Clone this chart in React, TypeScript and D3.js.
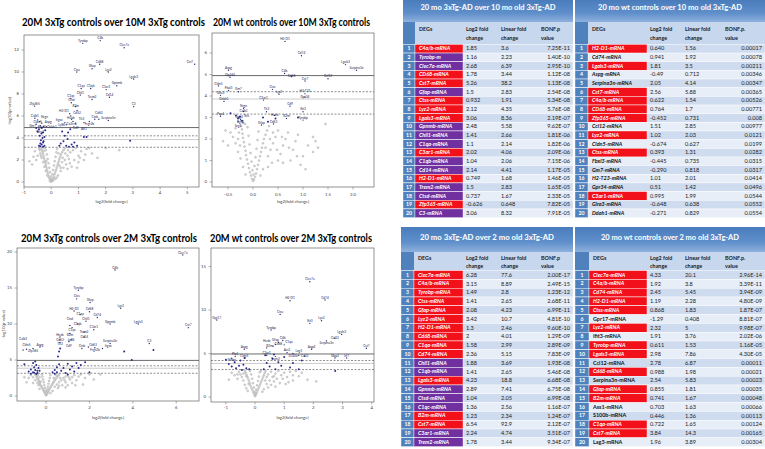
import React from "react";
import * as d3 from "d3";

type Pt = [number, number];
type Lab = [string, number, number];

// ---------------- Volcano plot data ----------------
const v1Grey: Pt[] = [[0,0.05],[0.02,0.1],[-0.02,0.12],[0.05,0.2],[-0.05,0.25],[0.08,0.35],[-0.08,0.4],[0.1,0.5],[-0.1,0.55],[0.12,0.7],[-0.12,0.75],[0.15,0.9],[-0.14,0.95],[0.18,1.1],[-0.16,1.15],[0.2,1.3],[-0.18,1.35],[0.23,1.5],[-0.2,1.55],[0.25,1.7],[-0.22,1.75],[0.28,1.9],[-0.24,1.95],[0.3,2.1],[-0.26,2.15],[0.33,2.3],[-0.28,2.35],[0.36,2.5],[-0.3,2.55],[0.4,2.7],[-0.32,2.75],[0.45,2.9],[-0.34,2.95],[-0.36,3.1],[0.5,3.05],[0.3,1.5],[0.4,1.8],[0.5,2.0],[0.6,2.4],[0.7,2.7],[0.8,2.9],[0.9,3.1],[0.55,1.6],[0.65,2.1],[0.45,1.3],[0.35,1.0],[0.25,0.6],[0.2,0.4],[-0.3,1.8],[-0.35,2.2],[-0.4,2.6],[-0.42,2.9],[-0.25,1.4],[-0.2,1.0],[-0.15,0.6],[-0.45,3.0],[-0.5,2.4],[-0.55,2.0],[-0.7,1.6],[-0.6,2.8],[1.0,2.4],[1.1,2.8],[1.2,2.0],[1.3,3.0],[1.5,2.6],[1.0,1.8],[0.85,2.0],[0.75,1.4],[1.4,3.1],[2.0,3.1],[2.5,2.9],[1.7,2.2],[0.6,1.2],[0.15,0.3],[-0.05,0.08],[0.08,0.15],[0.01,0.3],[-0.01,0.5],[0.04,0.7],[-0.04,0.9],[0.07,1.1],[-0.07,1.3],[0.1,1.5],[-0.1,1.7],[0.13,1.9],[-0.13,2.1],[0.16,2.3],[-0.16,2.5],[0.19,2.7],[-0.2,2.9],[0.22,3.0],[-0.24,3.1],[0.35,1.3],[0.42,2.2],[0.52,2.6],[0.62,2.9],[-0.38,2.4],[-0.28,2.8],[-0.18,1.9],[0.27,2.6],[0.68,1.7],[1.05,2.2],[1.25,2.5],[-0.8,1.9],[-0.65,2.3],[0.95,1.3]];
const v1Blue: Pt[] = [[-0.45,3.3],[-0.4,3.5],[-0.35,3.4],[-0.3,3.6],[-0.25,3.3],[-0.38,3.8],[-0.32,4.0],[-0.28,3.7],[-0.42,4.2],[-0.36,4.4],[-0.3,4.5],[-0.25,4.1],[-0.5,4.6],[-0.45,4.8],[-0.35,4.9],[-0.22,4.7],[-0.3,3.2],[-0.4,3.25],[-0.55,4.9],[0.3,3.3],[0.35,3.5],[0.45,3.7],[0.55,3.3],[0.6,3.9],[0.5,4.2],[0.62,4.5],[0.7,4.8],[0.75,3.4],[0.8,3.2],[0.95,3.3],[0.4,4.6],[1.2,4.1],[1.3,4.1],[2.9,3.75],[0.85,3.6],[0.65,3.2]];
const v1Labels: Lab[] = [["C4b",1.8,12.85],["Tyrobp",1.16,12.6],["Clec7a",2.68,12.2],["Cst7",5.27,10.7],["Cd68",1.78,10.7],["Gfap",1.5,10.3],["Ctss",0.94,10.0],["Lyz2",2.1,10.0],["Lgals3",3.03,9.36],["Gpnmb",2.41,8.75],["C1qa",1.1,8.5],["C1qb",1.45,8.5],["C3ar1",2.02,8.4],["Chil1",1.07,7.9],["Cd14",2.14,7.7],["Trem2",1.5,7.5],["C1qc",0.72,7.6],["Ctsd",0.74,7.2],["Zfp365",-0.61,6.9],["B2m",0.9,6.85],["Cd52",0.95,6.5],["C3",3.03,6.85],["H2-D1",0.68,6.2],["Hexb",0.72,6.0],["Cx3cr1",0.75,5.7],["Tlr2",0.8,5.5],["Itgax",0.5,5.4],["Ly86",0.55,5.2],["Cd9",0.9,5.3],["Fcgr2b",1.4,5.5],["Ctsb",1.6,5.7],["Cd63",1.75,5.7],["Serpina3n",2.1,5.6],["Aif1",1.2,5.4],["Calb1",-0.6,5.8],["Cldn5",-0.5,5.65],["Nrgn",-0.42,5.5],["Fbxl3",-0.35,5.35],["Gm7",-0.55,5.25],["Glra3",-0.4,5.12],["Aspg",-0.28,5.05],["Ddah1",-0.18,5.02]];

const v2Grey: Pt[] = [[0,0.05],[0.02,0.12],[-0.02,0.15],[0.04,0.25],[-0.04,0.3],[0.06,0.4],[-0.06,0.45],[0.08,0.6],[-0.08,0.65],[0.1,0.8],[-0.1,0.85],[0.12,1.0],[-0.12,1.05],[0.14,1.2],[-0.14,1.25],[0.16,1.4],[-0.15,1.45],[0.18,1.6],[-0.17,1.65],[0.2,1.8],[-0.18,1.85],[0.22,2.0],[-0.2,2.05],[0.25,2.2],[-0.21,2.25],[0.28,2.4],[-0.22,2.45],[-0.24,2.6],[0.3,1.2],[0.35,1.5],[0.4,1.8],[0.45,2.1],[0.5,2.4],[0.38,0.9],[0.55,1.3],[0.6,1.7],[0.65,2.0],[0.7,2.3],[0.75,1.0],[0.8,1.5],[0.85,1.9],[0.9,2.2],[1.0,1.2],[1.05,0.6],[1.1,1.7],[1.2,2.1],[1.25,1.9],[1.2,1.4],[0.95,0.8],[0.6,0.9],[-0.3,1.4],[-0.35,1.8],[-0.4,2.1],[-0.45,2.3],[-0.3,2.0],[-0.25,1.1],[-0.5,1.7],[-0.55,2.4],[-0.6,1.9],[-0.2,0.7],[1.45,2.7],[0.2,0.6],[0.3,0.7],[0.15,0.3],[-0.15,0.35],[0.01,0.35],[-0.01,0.55],[0.03,0.75],[-0.03,0.95],[0.05,1.15],[-0.05,1.35],[0.07,1.55],[-0.07,1.75],[0.09,1.95],[-0.09,2.15],[0.11,2.35],[-0.11,2.55],[-0.16,2.7],[0.32,2.6],[0.4,2.3],[0.25,1.6],[0.34,2.0],[0.48,1.5],[0.58,2.1],[-0.28,2.3],[-0.35,2.5],[-0.26,1.7],[0.72,1.6],[0.88,1.2],[1.3,1.6],[0.5,1.0]];
const v2Blue: Pt[] = [[-0.3,2.95],[-0.26,3.05],[-0.22,2.85],[-0.34,3.1],[0.2,3.0],[0.3,2.8],[0.45,2.95],[-0.45,3.2],[0.9,3.0]];
const v2Labels: Lab[] = [["H2-D1",0.64,6.54],["Cd74",0.97,5.87],["Lgals3",1.85,5.46],["Serpina3n",2.07,5.2],["Aspg",-0.49,5.2],["Ccl12",1.5,4.8],["C4b",0.63,5.05],["Cd68",0.77,4.9],["Zfp365",-0.46,4.87],["Cst7",1.04,4.7],["Cldn5",-0.69,4.47],["Fbxl3",-0.49,4.26],["Gm7",-0.29,4.2],["Ctss",0.39,4.31],["Lyz2",0.52,4.08],["Glra3",-0.65,4.03],["H2-T23",1.04,4.1],["Gpr34",1.04,3.95],["Ddah1",-0.58,3.75],["C3ar1",0.21,3.81],["Cd9",0.74,3.53],["Nrgn",-0.19,3.43],["Calb1",-0.19,3.28],["Tlr2",0.27,3.27],["Ifit3",1.0,3.27],["Hexb",0.43,3.1],["Pcp4",-0.65,3.06],["Gng4",-0.28,3.0],["Rgs4",-0.25,2.9],["Scg2",-0.3,2.8],["Nts",-0.2,2.75],["B2m",0.67,2.96],["Tyrobp",1.0,2.88],["Gfap",0.17,2.65],["Cd63",0.41,2.7]];

const v3Grey: Pt[] = [[0,0.1],[0.03,0.2],[-0.03,0.25],[0.06,0.4],[-0.06,0.45],[0.1,0.6],[-0.1,0.65],[0.13,0.8],[-0.13,0.85],[0.16,1.0],[-0.16,1.05],[0.2,1.2],[-0.2,1.25],[0.24,1.4],[-0.24,1.45],[0.28,1.6],[-0.28,1.65],[0.32,1.8],[-0.3,1.85],[0.36,2.0],[-0.33,2.05],[0.4,2.2],[-0.36,2.25],[0.45,2.4],[-0.4,2.45],[0.5,2.6],[-0.43,2.65],[0.55,2.8],[-0.46,2.85],[-0.5,3.0],[0.6,3.0],[0.4,1.3],[0.5,1.6],[0.6,1.9],[0.7,2.2],[0.8,2.5],[0.9,2.7],[1.0,2.9],[0.55,1.1],[0.75,1.5],[0.9,1.9],[1.1,2.3],[1.2,2.6],[1.3,2.9],[1.0,1.5],[1.4,2.2],[1.5,2.7],[1.6,3.0],[1.8,2.5],[2.0,3.0],[1.2,1.8],[0.3,0.7],[0.2,0.4],[-0.4,1.8],[-0.5,2.2],[-0.6,2.6],[-0.7,2.9],[-0.35,1.5],[-0.3,1.0],[-0.6,1.8],[-0.9,1.9],[-0.8,2.5],[2.2,2.3],[2.5,3.0],[1.7,1.6],[0.02,0.5],[-0.02,0.7],[0.05,0.9],[-0.05,1.1],[0.08,1.3],[-0.08,1.5],[0.11,1.7],[-0.11,1.9],[0.14,2.1],[-0.14,2.3],[0.17,2.5],[-0.17,2.7],[0.2,2.9],[-0.2,3.0],[0.35,2.5],[0.45,2.9],[0.65,2.5],[0.85,2.2],[1.05,2.6],[-0.3,2.6],[-0.38,2.9],[-0.25,2.0],[0.6,1.4],[0.9,1.2],[1.35,1.5],[-1.0,2.6]];
const v3Blue: Pt[] = [[-0.8,3.4],[-0.7,3.7],[-0.6,3.3],[-0.55,4.0],[-0.5,3.6],[-0.45,4.3],[-0.4,3.5],[-0.35,3.9],[-0.6,4.6],[-0.5,4.8],[-0.4,3.2],[-0.3,3.5],[-0.7,3.1],[-0.55,3.25],[-1.0,4.4],[-0.45,3.05],[0.3,3.3],[0.4,3.6],[0.5,4.0],[0.6,4.4],[0.7,3.5],[0.8,3.9],[0.9,3.2],[1.0,4.5],[1.1,3.7],[1.2,4.1],[1.3,3.4],[1.4,4.6],[1.5,3.9],[1.6,4.3],[1.8,4.7],[2.0,3.3],[0.55,5.5],[0.6,6.2],[0.65,6.6],[0.4,3.1],[0.5,3.3],[1.0,3.0],[3.6,6.2],[3.95,5.0],[4.95,6.4]];
const v3Labels: Lab[] = [["Clec7a",6.3,19.6],["C4b",3.18,17.5],["Tyrobp",1.49,14.7],["Ctss",1.41,13.5],["Gfap",2.03,13.0],["Lyz2",3.44,12.2],["H2-D1",1.29,11.8],["Cd68",2.0,11.7],["C1qa",1.57,11.3],["Cd74",2.36,10.9],["Chil1",1.84,10.4],["Gpnmb",2.95,10.0],["Lgals3",4.25,10.0],["Cst7",6.56,9.5],["C1qb",1.45,10.0],["Ctsd",1.1,9.8],["C1qc",1.2,9.5],["B2m",1.1,8.7],["C3ar1",2.2,9.2],["Trem2",1.75,8.9],["Cd14",1.76,8.2],["Hexb",0.64,8.2],["Cd52",0.64,7.8],["Tlr2",0.64,7.45],["Ly86",1.15,7.8],["Cd9",1.05,7.55],["Serpina3n",2.95,7.3],["C3",4.76,7.3],["Aspg",-0.28,6.8],["Zfp365",-0.6,6.6],["Cldn5",-0.9,6.5],["Calb1",-1.06,6.4],["Ctsb",1.65,6.6],["Cd63",1.95,6.8],["Fcgr2b",2.25,6.7],["Itgax",2.6,6.6]];

const v4Grey: Pt[] = [[0,0.1],[0.03,0.25],[-0.03,0.3],[0.06,0.5],[-0.06,0.55],[0.09,0.75],[-0.09,0.8],[0.12,1.0],[-0.12,1.05],[0.15,1.25],[-0.15,1.3],[0.18,1.5],[-0.18,1.55],[0.21,1.75],[-0.2,1.8],[0.24,2.0],[-0.23,2.05],[0.27,2.25],[-0.26,2.3],[0.3,2.5],[-0.29,2.55],[0.33,2.75],[-0.32,2.8],[-0.35,3.0],[0.36,3.0],[0.4,1.5],[0.5,1.9],[0.6,2.3],[0.7,2.7],[0.8,3.0],[0.45,1.1],[0.55,1.4],[0.65,1.8],[0.75,2.1],[0.9,2.5],[1.0,2.8],[1.1,2.3],[1.2,2.9],[1.3,1.9],[0.85,1.6],[1.05,1.5],[1.5,2.4],[1.6,2.8],[1.4,3.0],[2.1,1.8],[1.8,2.0],[0.3,0.9],[0.25,0.6],[-0.4,1.9],[-0.45,2.3],[-0.5,2.6],[-0.55,2.9],[-0.35,1.4],[-0.3,1.0],[-0.6,2.1],[-0.7,2.5],[-0.8,2.8],[-0.25,0.7],[-0.9,2.0],[1.3,2.5],[0.01,0.4],[-0.01,0.6],[0.04,0.85],[-0.04,1.1],[0.07,1.35],[-0.07,1.6],[0.1,1.85],[-0.1,2.1],[0.13,2.35],[-0.13,2.6],[0.16,2.85],[-0.18,3.0],[0.2,3.0],[0.45,2.6],[0.55,2.9],[0.35,1.9],[0.4,2.3],[0.65,2.4],[-0.3,2.4],[-0.4,2.7],[-0.22,1.5],[0.95,2.1],[1.15,1.7],[0.7,1.2],[-0.6,2.6]];
const v4Blue: Pt[] = [[-0.9,3.8],[-0.8,3.5],[-0.7,4.0],[-0.65,3.3],[-0.55,3.6],[-0.5,4.2],[-0.45,3.1],[-0.4,3.7],[-0.35,4.5],[-0.3,3.3],[-1.0,4.3],[-0.2,3.2],[0.3,3.2],[0.4,3.9],[0.5,3.5],[0.6,4.4],[0.7,3.2],[0.8,4.0],[0.9,3.6],[1.0,4.6],[1.2,3.4],[1.3,3.9],[1.5,3.2],[1.6,4.2],[2.75,3.0],[0.35,4.8],[0.65,4.9]];
const v4Labels: Lab[] = [["Clec7a",1.88,13.25],["H2-D1",1.2,11.07],["Cd74",2.4,11.15],["Gpr17",-1.31,8.85],["Ctss",0.86,9.5],["Ifit3",1.88,8.47],["Lyz2",2.28,8.77],["Tyrobp",0.55,7.7],["Lgals3",2.97,7.2],["Ccl12",2.74,6.75],["Serpina3n",2.45,6.45],["C4b",0.95,6.5],["Cd68",0.8,6.3],["Gfap",0.7,6.05],["B2m",0.62,5.85],["C1qa",1.0,6.0],["Hexb",0.4,5.65],["Aspg",-0.37,5.5],["Aqp4",1.94,5.5],["Cst7",3.82,5.6],["Ass1",1.1,5.1],["S100b",1.3,5.0],["Lag3",1.5,4.8],["Cd52",1.7,4.7],["Plp1",-0.68,4.65],["Mobp",-0.8,4.45],["Cldn5",-0.37,4.5],["Gbp2",2.74,4.5],["Irf7",3.14,4.5],["C3ar1",0.4,4.8],["Trem2",0.7,4.65]];

const thresholds = [4.95, 4.2, 3.86, 3.16];

// ---------------- Table data ----------------
const t1Genes = ["C4a/b-mRNA","Tyrobp-m","Clec7a-mRNA","CD68-mRNA","Cst7-mRNA","Gfap-mRNA","Ctss-mRNA","Lyz2-mRNA","Lgals3-mRNA","Gpnmb-mRNA","Chil1-mRNA","C1qa-mRNA","C3ar1-mRNA","C1qb-mRNA","Cd14-mRNA","H2-D1-mRNA","Trem2-mRNA","Ctsd-mRNA","Zfp365-mRNA","C3-mRNA"];
const t1Hl = "rpprrprrrppprpprpprp";
const t1Log2 = ["1.85","1.16","2.68","1.78","5.26","1.5","0.932","2.12","3.06","2.48","1.41","1.1","2.02","1.04","2.14","0.749","1.5","0.737","-0.626","3.06"];
const t1Lin = ["3.6","2.23","6.39","3.44","38.2","2.83","1.91","4.35","8.36","5.58","2.66","2.14","4.06","2.06","4.41","1.68","2.83","1.67","0.648","8.32"];
const t1Bonf = ["7.25E-11","1.40E-10","2.95E-10","1.12E-08","1.13E-08","2.54E-08","5.34E-08","5.76E-08","2.19E-07","9.62E-07","1.81E-06","1.82E-06","2.09E-06","7.15E-06","1.17E-05","1.46E-05","1.65E-05","2.33E-05","7.82E-05","7.91E-05"];

const t2Genes = ["H2-D1-mRNA","Cd74-mRNA","Lgals3-mRNA","Aspg-mRNA","Serpina3n-mRNA","Cst7-mRNA","C4a/b-mRNA","CD68-mRNA","Zfp365-mRNA","Ccl12-mRNA","Lyz2-mRNA","Cldn5-mRNA","Ctss-mRNA","Fbxl3-mRNA","Gm7-mRNA","H2-T23-mRNA","Gpr34-mRNA","C3ar1-mRNA","Glra3-mRNA","Ddah1-mRNA"];
const t2Hl = "rnrnnrrrrnrnrnnnnrnn";
const t2Log2 = ["0.640","0.941","1.81","-0.49","2.05","2.56","0.622","0.764","-0.452","1.51","1.02","-0.674","0.393","-0.445","-0.290","1.01","0.51","0.995","-0.648","-0.271"];
const t2Lin = ["1.56","1.92","3.5","0.712","4.14","5.88","1.54","1.7","0.731","2.85","2.03","0.627","1.31","0.735","0.818","2.01","1.42","1.99","0.638","0.829"];
const t2Bonf = ["0.00017","0.00078","0.00211","0.00346","0.00347","0.00365","0.00526","0.00771","0.008","0.00977","0.0121","0.0199","0.0282","0.0315","0.0317","0.0414","0.0496","0.0544","0.0552","0.0554"];

const t3Genes = ["Clec7a-mRNA","C4a/b-mRNA","Tyrobp-mRNA","Ctss-mRNA","Gfap-mRNA","Lyz2-mRNA","H2-D1-mRNA","Cd68-mRNA","C1qa-mRNA","Cd74-mRNA","Chil1-mRNA","C1qb-mRNA","Lgals3-mRNA","Gpnmb-mRNA","Ctsd-mRNA","C1qc-mRNA","B2m-mRNA","Cst7-mRNA","C3ar1-mRNA","Trem2-mRNA"];
const t3Hl = "rrrrrrrrrrpprppprrpp";
const t3Log2 = ["6.28","3.15","1.49","1.41","2.08","3.42","1.3","2","1.58","2.36","1.88","1.41","4.23","2.89","1.04","1.36","1.23","6.54","2.24","1.78"];
const t3Lin = ["77.6","8.89","2.8","2.65","4.23","10.7","2.46","4.01","2.99","5.15","3.69","2.65","18.8","7.41","2.05","2.56","2.34","92.9","4.74","3.44"];
const t3Bonf = ["2.00E-17","2.49E-15","1.23E-12","2.68E-11","6.99E-11","4.81E-10","9.60E-10","1.29E-09","2.89E-09","7.83E-09","1.93E-08","5.46E-08","6.68E-08","6.75E-08","6.99E-08","1.16E-07","1.24E-07","2.12E-07","3.51E-07","9.34E-07"];

const t4Genes = ["Clec7a-mRNA","C4a/b-mRNA","Cd74-mRNA","H2-D1-mRNA","Ctss-mRNA","Gpr17-mRNA","Lyz2-mRNA","Ifit3-mRNA","Tyrobp-mRNA","Lgals3-mRNA","Ccl12-mRNA","Cd68-mRNA","Serpina3n-mRNA","Gfap-mRNA","B2m-mRNA","Ass1-mRNA","S100b-mRNA","C1qa-mRNA","Cst7-mRNA","Lag3-mRNA"];
const t4Hl = "rrrrrnrnrrnrnrrnnrrn";
const t4Log2 = ["4.33","1.92","2.45","1.19","0.868","-1.29","2.32","1.91","0.611","2.98","2.78","0.988","2.54","0.855","0.741","0.703","0.446","0.722","3.84","1.96"];
const t4Lin = ["20.1","3.8","5.45","2.28","1.83","0.408","5","3.76","1.53","7.86","6.87","1.98","5.83","1.81","1.67","1.63","1.36","1.65","14.3","3.89"];
const t4Bonf = ["2.96E-14","3.39E-11","3.94E-09","4.80E-09","1.87E-07","8.81E-07","9.98E-07","2.02E-06","1.16E-05","4.30E-05","0.00011","0.00021","0.00023","0.00035","0.00048","0.00066","0.00113","0.00124","0.00165","0.00304"];

const FONT = "Lato, 'Open Sans', 'DejaVu Sans', sans-serif";
const LABEL_FS = 3.2;

type Placed = { g: string; px: number; py: number; tx: number; ty: number };

// Greedy label placement: keeps each gene label next to its point while avoiding collisions.
function placeLabels(labels: Lab[], x: (v: number) => number, y: (v: number) => number,
  box: [number, number, number, number]): Placed[] {
  const fs = LABEL_FS;
  const h = fs * 1.25;
  const done: { cx: number; cy: number; w: number; h: number }[] = [];
  const out: Placed[] = [];
  const hit = (cx: number, cy: number, w: number) =>
    done.some((b) => Math.abs(b.cx - cx) < (b.w + w) / 2 + 0.3 && Math.abs(b.cy - cy) < (b.h + h) / 2 + 0.2);
  for (const [g, lx, ly] of labels) {
    const px = x(lx), py = y(ly);
    const w = g.length * fs * 0.56 + 0.6;
    const cands: [number, number][] = [];
    for (let k = -4; k <= 4; k++) for (const s of [0, 0.6, -0.6, 1.1, -1.1]) cands.push([px + s * w, py - 2.2 + k * h * 0.55]);
    cands.sort((a, b) => ((a[0] - px) ** 2 + (a[1] - py + 2.2) ** 2) - ((b[0] - px) ** 2 + (b[1] - py + 2.2) ** 2));
    let best = cands[0];
    for (const c of cands) {
      const inside = c[0] - w / 2 > box[0] + 0.5 && c[0] + w / 2 < box[1] - 0.5 && c[1] - h / 2 > box[2] + 0.5 && c[1] + h / 2 < box[3] - 0.5;
      if (inside && !hit(c[0], c[1], w)) { best = c; break; }
    }
    done.push({ cx: best[0], cy: best[1], w, h });
    out.push({ g, px, py, tx: best[0], ty: best[1] });
  }
  return out;
}

type VProps = {
  box: [number, number, number, number];
  xd: [number, number]; yd: [number, number];
  xt: number[]; yt: number[]; xfmt: (n: number) => string;
  grey: Pt[]; blue: Pt[]; labels: Lab[];
  title: string; titleX: number; titleY: number; titleW: number;
  tickY: number; xlabY: number; ylabX?: number;
};

function Volcano(p: VProps) {
  const [x0, x1, y0, y1] = p.box;
  const x = d3.scaleLinear().domain(p.xd).range([x0, x1]);
  const y = d3.scaleLinear().domain(p.yd).range([y1, y0]);
  const lineStyle = [
    { stroke: "#444", dash: undefined, w: 0.8 },
    { stroke: "#444", dash: "2,1.5", w: 0.6 },
    { stroke: "#aaa", dash: undefined, w: 0.6 },
    { stroke: "#444", dash: "2,1.5", w: 0.6 },
  ];
  const placed = placeLabels(p.labels, x, y, p.box);
  return (
    <g fontFamily={FONT}>
      <text x={p.titleX} y={p.titleY} fontSize={10.5} fontWeight="bold" fill="#000"
        textLength={p.titleW} lengthAdjust="spacingAndGlyphs">{p.title}</text>
      {p.grey.map((d, i) => (
        <circle key={"g" + i} cx={x(d[0])} cy={y(d[1])} r={1.0} fill="#d6d6d6" stroke="#a0a0a0" strokeWidth={0.35} />
      ))}
      {thresholds.map((t, i) => (
        <line key={"t" + i} x1={x0} x2={x1} y1={y(t)} y2={y(t)} stroke={lineStyle[i].stroke}
          strokeWidth={lineStyle[i].w} strokeDasharray={lineStyle[i].dash} />
      ))}
      {p.blue.map((d, i) => (
        <circle key={"b" + i} cx={x(d[0])} cy={y(d[1])} r={1.0} fill="#2a2a8c" />
      ))}
      {placed.map((d, i) => (
        <g key={"l" + i}>
          <circle cx={d.px} cy={d.py} r={0.7} fill="#2a2a6c" />
          <text x={d.tx} y={d.ty} fontSize={LABEL_FS} fill="#1c1c50" textAnchor="middle" dominantBaseline="middle">{d.g}</text>
        </g>
      ))}
      <rect x={x0} y={y0} width={x1 - x0} height={y1 - y0} fill="none" stroke="#666" strokeWidth={0.7} />
      {p.xt.map((t) => (
        <g key={"xt" + t}>
          <line x1={x(t)} x2={x(t)} y1={y1} y2={y1 + 2.5} stroke="#666" strokeWidth={0.5} />
          <text x={x(t)} y={p.tickY} fontSize={4.3} fill="#444" textAnchor="middle" dominantBaseline="middle">{p.xfmt(t)}</text>
        </g>
      ))}
      {p.yt.map((t) => (
        <g key={"yt" + t}>
          <line x1={x0 - 2.5} x2={x0} y1={y(t)} y2={y(t)} stroke="#666" strokeWidth={0.5} />
          <text x={x0 - 5} y={y(t)} fontSize={4.3} fill="#444" textAnchor="end" dominantBaseline="middle">{String(t)}</text>
        </g>
      ))}
      <text x={(x0 + x1) / 2} y={p.xlabY} fontSize={4.3} fill="#444" textAnchor="middle" dominantBaseline="middle">log2(fold change)</text>
      {p.ylabX !== undefined && (
        <text transform={`translate(${p.ylabX},${(y0 + y1) / 2}) rotate(-90)`} fontSize={4.3} fill="#444"
          textAnchor="middle" dominantBaseline="middle">-log10(p-value)</text>
      )}
    </g>
  );
}

type TProps = {
  cols: number[]; bandTop: number; headTop: number; rowTop: number; rowH: number;
  title: string; titleY: number; titleW: number; bonfHead: string;
  genes: string[]; hl: string; log2: string[]; lin: string[]; bonf: string[]; plainItalic: boolean;
};

function DegTable(p: TProps) {
  const left = p.cols[0], right = p.cols[5];
  const hh = p.rowTop - p.headTop;
  const ry = d3.scaleLinear().domain([0, p.genes.length]).range([p.rowTop, p.rowTop + p.rowH * p.genes.length]);
  const fillFor = (c: string) => (c === "r" ? "#f2101a" : c === "p" ? "#7030a0" : "none");
  const l1 = p.headTop + hh * 0.36, l2 = p.headTop + hh * 0.76;
  return (
    <g fontFamily={FONT}>
      <rect x={left} y={p.bandTop} width={right - left} height={p.headTop - p.bandTop} fill="url(#hdrGrad)" />
      <text x={(left + right) / 2} y={p.titleY} fontSize={7.6} fontWeight="bold" fill="#fff" textAnchor="middle"
        dominantBaseline="middle" textLength={p.titleW} lengthAdjust="spacingAndGlyphs">{p.title}</text>
      <rect x={left} y={p.headTop} width={right - left} height={hh} fill="#c7d7ee" />
      <rect x={p.cols[0]} y={p.headTop} width={p.cols[1] - p.cols[0]} height={hh} fill="#4f81bd" />
      <g fontSize={5.4} fontWeight="bold" fill="#1a1a1a" dominantBaseline="middle">
        <text x={p.cols[1] + 4} y={l1}>DEGs</text>
        <text x={p.cols[2] + 3} y={l1}>Log2 fold</text>
        <text x={p.cols[2] + 3} y={l2}>change</text>
        <text x={p.cols[3] + 3} y={l1}>Linear fold</text>
        <text x={p.cols[3] + 3} y={l2}>change</text>
        <text x={p.cols[4] + 3} y={l1}>{p.bonfHead}</text>
        <text x={p.cols[4] + 3} y={l2}>value</text>
      </g>
      {p.genes.map((g, i) => {
        const top = ry(i), h = ry(i + 1) - ry(i), mid = top + h / 2 + 0.3;
        const hc = p.hl[i];
        return (
          <g key={g + i}>
            <rect x={left} y={top} width={right - left} height={h} fill={i % 2 === 0 ? "#cfdbee" : "#e8eef8"} stroke="#fff" strokeWidth={0.4} />
            <rect x={p.cols[0]} y={top} width={p.cols[1] - p.cols[0]} height={h} fill="#4f81bd" stroke="#fff" strokeWidth={0.4} />
            <text x={(p.cols[0] + p.cols[1]) / 2} y={mid} fontSize={5.2} fontWeight="bold" fill="#fff" textAnchor="middle" dominantBaseline="middle">{i + 1}</text>
            {hc !== "n" && (
              <rect x={p.cols[1]} y={top} width={p.cols[2] - p.cols[1]} height={h} fill={fillFor(hc)} stroke="#fff" strokeWidth={0.4} />
            )}
            <text x={p.cols[1] + 4} y={mid} fontSize={5.4} fontWeight="bold"
              fontStyle={hc !== "n" || p.plainItalic ? "italic" : "normal"}
              fill={hc === "n" ? "#111" : "#fff"} dominantBaseline="middle">{g}</text>
            <text x={p.cols[2] + 3} y={mid} fontSize={5.6} fill="#222" dominantBaseline="middle">{p.log2[i]}</text>
            <text x={p.cols[3] + 3} y={mid} fontSize={5.6} fill="#222" dominantBaseline="middle">{p.lin[i]}</text>
            <text x={p.cols[5] - 3} y={mid} fontSize={5.6} fill="#222" textAnchor="end" dominantBaseline="middle">{p.bonf[i]}</text>
          </g>
        );
      })}
    </g>
  );
}

export default function App() {
  const fmtInt = (n: number) => String(n);
  const fmt1 = d3.format(".1f");
  return (
    <svg width={765} height={449} viewBox="0 0 765 449"
      style={{ position: "absolute", left: 0, top: 0, display: "block", background: "#fff" }}>
      <defs>
        <linearGradient id="hdrGrad" x1="0" y1="0" x2="0" y2="1">
          <stop offset="0" stopColor="#4a7cbc" />
          <stop offset="0.6" stopColor="#5f8fcb" />
          <stop offset="1" stopColor="#8fb0dc" />
        </linearGradient>
      </defs>
      <rect x={0} y={0} width={765} height={449} fill="#fff" />

      <Volcano box={[24, 199, 35, 187]} xd={[-1, 5.43]} yd={[-0.45, 13.36]}
        xt={[-1, 0, 1, 2, 3, 4, 5]} yt={[0, 2, 4, 6, 8, 10, 12]} xfmt={fmtInt}
        grey={v1Grey} blue={v1Blue} labels={v1Labels}
        title="20M 3xTg controls over 10M 3xTg controls" titleX={22} titleY={25.5} titleW={183}
        tickY={193} xlabY={202} ylabX={10} />
      <Volcano box={[212, 374, 33, 187]} xd={[-0.82, 2.42]} yd={[-0.23, 6.93]}
        xt={[-0.5, 0, 0.5, 1, 1.5, 2]} yt={[0, 1, 2, 3, 4, 5, 6]} xfmt={fmt1}
        grey={v2Grey} blue={v2Blue} labels={v2Labels}
        title="20M wt controls over 10M 3xTg controls" titleX={213} titleY={25.5} titleW={157}
        tickY={195} xlabY={202} />
      <Volcano box={[17, 199, 248, 401]} xd={[-1.34, 7.05]} yd={[-0.69, 20.56]}
        xt={[0, 2, 4, 6]} yt={[0, 5, 10, 15, 20]} xfmt={fmtInt}
        grey={v3Grey} blue={v3Blue} labels={v3Labels}
        title="20M 3xTg controls over 2M 3xTg controls" titleX={21} titleY={241.5} titleW={176}
        tickY={408} xlabY={418} ylabX={4} />
      <Volcano box={[211, 374, 248, 402]} xd={[-1.51, 4.08]} yd={[-0.57, 17.13]}
        xt={[-1, 0, 1, 2, 3, 4]} yt={[0, 5, 10, 15]} xfmt={fmtInt}
        grey={v4Grey} blue={v4Blue} labels={v4Labels}
        title="20M wt controls over 2M 3xTg controls" titleX={210} titleY={242} titleW={162}
        tickY={408} xlabY={418} />

      <DegTable cols={[403, 415, 463, 498, 538, 573]} bandTop={0} headTop={22} rowTop={44.4} rowH={8.66}
        title="20 mo 3xTg-AD  over 10 mo old 3xTg-AD" titleY={8.5} titleW={135} bonfHead="BONF.p"
        genes={t1Genes} hl={t1Hl} log2={t1Log2} lin={t1Lin} bonf={t1Bonf} plainItalic={true} />
      <DegTable cols={[575, 588, 647, 682, 722, 765]} bandTop={0} headTop={22} rowTop={44.4} rowH={8.66}
        title="20 mo wt controls over 10 mo old 3xTg-AD" titleY={8.5} titleW={144} bonfHead="BONF.p."
        genes={t2Genes} hl={t2Hl} log2={t2Log2} lin={t2Lin} bonf={t2Bonf} plainItalic={true} />
      <DegTable cols={[401, 414, 463, 498, 538, 573]} bandTop={227} headTop={252} rowTop={270.6} rowH={8.8}
        title="20 mo 3xTg-AD  over 2 mo old 3xTg-AD" titleY={238.5} titleW={134} bonfHead="BONF.p"
        genes={t3Genes} hl={t3Hl} log2={t3Log2} lin={t3Lin} bonf={t3Bonf} plainItalic={true} />
      <DegTable cols={[575, 589, 647, 682, 722, 765]} bandTop={227} headTop={252} rowTop={270.6} rowH={8.8}
        title="20 mo wt controls over 2 mo old 3xTg-AD" titleY={238.5} titleW={138} bonfHead="BONF.p."
        genes={t4Genes} hl={t4Hl} log2={t4Log2} lin={t4Lin} bonf={t4Bonf} plainItalic={false} />
    </svg>
  );
}
